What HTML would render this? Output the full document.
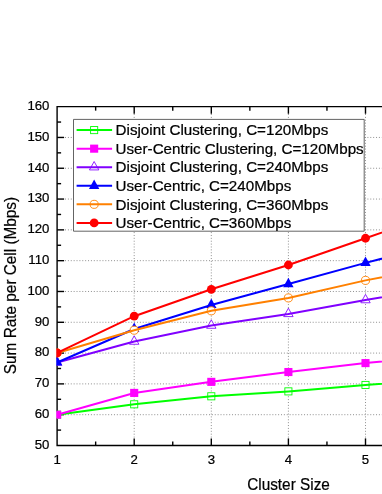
<!DOCTYPE html>
<html><head><meta charset="utf-8"><title>chart</title>
<style>
html,body{margin:0;padding:0;background:#fff;}
body{width:382px;height:494px;overflow:hidden;}
svg{display:block;will-change:transform;}
text{font-family:"Liberation Sans",sans-serif;fill:#000;stroke:#000;stroke-width:0.22px;}
.tk{font-size:13.2px;}
.lg{font-size:15.16px;}
.ax{font-size:15.35px;stroke-width:0.2px;}
</style></head><body>
<svg width="382" height="494" viewBox="0 0 382 494">
<rect width="382" height="494" fill="#fff"/>
<defs><clipPath id="cp"><rect x="56.3" y="100" width="330" height="350"/></clipPath></defs>
<g stroke="#909090" stroke-width="1" stroke-dasharray="1 1.88" fill="none">
<line x1="65" y1="414.69" x2="382" y2="414.69"/>
<line x1="65" y1="383.89" x2="382" y2="383.89"/>
<line x1="65" y1="353.09" x2="382" y2="353.09"/>
<line x1="65" y1="322.28" x2="382" y2="322.28"/>
<line x1="65" y1="291.48" x2="382" y2="291.48"/>
<line x1="65" y1="260.67" x2="382" y2="260.67"/>
<line x1="65" y1="229.87" x2="382" y2="229.87"/>
<line x1="65" y1="199.06" x2="382" y2="199.06"/>
<line x1="65" y1="168.25" x2="382" y2="168.25"/>
<line x1="65" y1="137.45" x2="382" y2="137.45"/>
<line x1="134.20" y1="114" x2="134.20" y2="438"/>
<line x1="211.30" y1="114" x2="211.30" y2="438"/>
<line x1="288.40" y1="114" x2="288.40" y2="438"/>
<line x1="365.50" y1="114" x2="365.50" y2="438"/>
</g>
<g stroke="#000" stroke-width="1.4" fill="none">
<path d="M382 106.65H57.1V445.5H382"/>
<line x1="57.1" y1="430.10" x2="61.1" y2="430.10"/>
<line x1="57.1" y1="414.69" x2="64.1" y2="414.69"/>
<line x1="57.1" y1="399.29" x2="61.1" y2="399.29"/>
<line x1="57.1" y1="383.89" x2="64.1" y2="383.89"/>
<line x1="57.1" y1="368.49" x2="61.1" y2="368.49"/>
<line x1="57.1" y1="353.09" x2="64.1" y2="353.09"/>
<line x1="57.1" y1="337.68" x2="61.1" y2="337.68"/>
<line x1="57.1" y1="322.28" x2="64.1" y2="322.28"/>
<line x1="57.1" y1="306.88" x2="61.1" y2="306.88"/>
<line x1="57.1" y1="291.48" x2="64.1" y2="291.48"/>
<line x1="57.1" y1="276.07" x2="61.1" y2="276.07"/>
<line x1="57.1" y1="260.67" x2="64.1" y2="260.67"/>
<line x1="57.1" y1="245.27" x2="61.1" y2="245.27"/>
<line x1="57.1" y1="229.87" x2="64.1" y2="229.87"/>
<line x1="57.1" y1="214.46" x2="61.1" y2="214.46"/>
<line x1="57.1" y1="199.06" x2="64.1" y2="199.06"/>
<line x1="57.1" y1="183.66" x2="61.1" y2="183.66"/>
<line x1="57.1" y1="168.25" x2="64.1" y2="168.25"/>
<line x1="57.1" y1="152.85" x2="61.1" y2="152.85"/>
<line x1="57.1" y1="137.45" x2="64.1" y2="137.45"/>
<line x1="57.1" y1="122.05" x2="61.1" y2="122.05"/>
<line x1="95.65" y1="445.5" x2="95.65" y2="441.5"/>
<line x1="95.65" y1="106.65" x2="95.65" y2="110.65"/>
<line x1="134.20" y1="445.5" x2="134.20" y2="438.4"/>
<line x1="134.20" y1="106.65" x2="134.20" y2="113.75"/>
<line x1="172.75" y1="445.5" x2="172.75" y2="441.5"/>
<line x1="172.75" y1="106.65" x2="172.75" y2="110.65"/>
<line x1="211.30" y1="445.5" x2="211.30" y2="438.4"/>
<line x1="211.30" y1="106.65" x2="211.30" y2="113.75"/>
<line x1="249.85" y1="445.5" x2="249.85" y2="441.5"/>
<line x1="249.85" y1="106.65" x2="249.85" y2="110.65"/>
<line x1="288.40" y1="445.5" x2="288.40" y2="438.4"/>
<line x1="288.40" y1="106.65" x2="288.40" y2="113.75"/>
<line x1="326.95" y1="445.5" x2="326.95" y2="441.5"/>
<line x1="326.95" y1="106.65" x2="326.95" y2="110.65"/>
<line x1="365.50" y1="445.5" x2="365.50" y2="438.4"/>
<line x1="365.50" y1="106.65" x2="365.50" y2="113.75"/>
</g>
<g clip-path="url(#cp)">
<rect x="53.55" y="411.14" width="7.1" height="7.1" fill="#fff" stroke="#00ff00" stroke-width="0.9"/>
<rect x="130.65" y="400.76" width="7.1" height="7.1" fill="#fff" stroke="#00ff00" stroke-width="0.9"/>
<rect x="207.75" y="392.75" width="7.1" height="7.1" fill="#fff" stroke="#00ff00" stroke-width="0.9"/>
<rect x="284.85" y="387.83" width="7.1" height="7.1" fill="#fff" stroke="#00ff00" stroke-width="0.9"/>
<rect x="361.95" y="381.39" width="7.1" height="7.1" fill="#fff" stroke="#00ff00" stroke-width="0.9"/>
<rect x="439.05" y="375.53" width="7.1" height="7.1" fill="#fff" stroke="#00ff00" stroke-width="0.9"/>
<polyline points="57.10,414.69 134.20,404.31 211.30,396.30 288.40,391.38 365.50,384.94 442.60,379.08" fill="none" stroke="#00ff00" stroke-width="2"/>
<rect x="53.05" y="410.64" width="8.1" height="8.1" fill="#ff00ff"/>
<rect x="130.15" y="388.87" width="8.1" height="8.1" fill="#ff00ff"/>
<rect x="207.25" y="377.81" width="8.1" height="8.1" fill="#ff00ff"/>
<rect x="284.35" y="367.98" width="8.1" height="8.1" fill="#ff00ff"/>
<rect x="361.45" y="359.05" width="8.1" height="8.1" fill="#ff00ff"/>
<rect x="438.55" y="351.96" width="8.1" height="8.1" fill="#ff00ff"/>
<polyline points="57.10,414.69 134.20,392.92 211.30,381.86 288.40,372.03 365.50,363.10 442.60,356.01" fill="none" stroke="#ff00ff" stroke-width="2"/>
<path d="M57.10 356.78L61.80 365.18L52.40 365.18Z" fill="#fff" stroke="#8000ff" stroke-width="0.85"/>
<path d="M134.20 335.86L138.90 344.26L129.50 344.26Z" fill="#fff" stroke="#8000ff" stroke-width="0.85"/>
<path d="M211.30 319.88L216.00 328.28L206.60 328.28Z" fill="#fff" stroke="#8000ff" stroke-width="0.85"/>
<path d="M288.40 308.20L293.10 316.60L283.70 316.60Z" fill="#fff" stroke="#8000ff" stroke-width="0.85"/>
<path d="M365.50 294.37L370.20 302.77L360.80 302.77Z" fill="#fff" stroke="#8000ff" stroke-width="0.85"/>
<path d="M442.60 281.12L447.30 289.52L437.90 289.52Z" fill="#fff" stroke="#8000ff" stroke-width="0.85"/>
<polyline points="57.10,362.48 134.20,341.56 211.30,325.58 288.40,313.90 365.50,300.07 442.60,286.82" fill="none" stroke="#8000ff" stroke-width="2"/>
<path d="M57.10 356.08L62.30 365.58L51.90 365.58Z" fill="#0000ff"/>
<path d="M134.20 322.56L139.40 332.06L129.00 332.06Z" fill="#0000ff"/>
<path d="M211.30 298.57L216.50 308.07L206.10 308.07Z" fill="#0000ff"/>
<path d="M288.40 277.68L293.60 287.18L283.20 287.18Z" fill="#0000ff"/>
<path d="M365.50 256.46L370.70 265.96L360.30 265.96Z" fill="#0000ff"/>
<path d="M442.60 236.77L447.80 246.27L437.40 246.27Z" fill="#0000ff"/>
<polyline points="57.10,362.48 134.20,328.96 211.30,304.97 288.40,284.08 365.50,262.86 442.60,243.17" fill="none" stroke="#0000ff" stroke-width="2"/>
<circle cx="57.10" cy="352.96" r="4.05" fill="#fff" stroke="#ff8000" stroke-width="0.9"/>
<circle cx="134.20" cy="330.20" r="4.05" fill="#fff" stroke="#ff8000" stroke-width="0.9"/>
<circle cx="211.30" cy="310.82" r="4.05" fill="#fff" stroke="#ff8000" stroke-width="0.9"/>
<circle cx="288.40" cy="297.91" r="4.05" fill="#fff" stroke="#ff8000" stroke-width="0.9"/>
<circle cx="365.50" cy="280.39" r="4.05" fill="#fff" stroke="#ff8000" stroke-width="0.9"/>
<circle cx="442.60" cy="265.32" r="4.05" fill="#fff" stroke="#ff8000" stroke-width="0.9"/>
<polyline points="57.10,352.96 134.20,330.20 211.30,310.82 288.40,297.91 365.50,280.39 442.60,265.32" fill="none" stroke="#ff8000" stroke-width="2"/>
<circle cx="57.10" cy="352.96" r="4.4" fill="#ff0000"/>
<circle cx="134.20" cy="316.21" r="4.4" fill="#ff0000"/>
<circle cx="211.30" cy="289.29" r="4.4" fill="#ff0000"/>
<circle cx="288.40" cy="265.01" r="4.4" fill="#ff0000"/>
<circle cx="365.50" cy="238.24" r="4.4" fill="#ff0000"/>
<circle cx="442.60" cy="211.51" r="4.4" fill="#ff0000"/>
<polyline points="57.10,352.96 134.20,316.21 211.30,289.29 288.40,265.01 365.50,238.24 442.60,211.51" fill="none" stroke="#ff0000" stroke-width="2"/>
</g>
<rect x="73.5" y="119.4" width="290.7" height="111.8" fill="#fff"/><path d="M73.5 119.4H364.2V231.2H73.5Z" fill="none" stroke="#484848" stroke-width="0.85"/>
<rect x="90.60" y="126.55" width="7.1" height="7.1" fill="#fff" stroke="#00ff00" stroke-width="0.9"/>
<line x1="76.6" y1="130.10" x2="112.1" y2="130.10" stroke="#00ff00" stroke-width="2"/>
<text class="lg" x="115.6" y="135.30">Disjoint Clustering, C=120Mbps</text>
<rect x="90.10" y="144.61" width="8.1" height="8.1" fill="#ff00ff"/>
<line x1="76.6" y1="148.66" x2="112.1" y2="148.66" stroke="#ff00ff" stroke-width="2"/>
<text class="lg" x="115.6" y="153.86">User-Centric Clustering, C=120Mbps</text>
<path d="M94.15 161.52L98.85 169.92L89.45 169.92Z" fill="#fff" stroke="#8000ff" stroke-width="0.85"/>
<line x1="76.6" y1="167.22" x2="112.1" y2="167.22" stroke="#8000ff" stroke-width="2"/>
<text class="lg" x="115.6" y="172.42">Disjoint Clustering, C=240Mbps</text>
<path d="M94.15 179.38L99.35 188.88L88.95 188.88Z" fill="#0000ff"/>
<line x1="76.6" y1="185.78" x2="112.1" y2="185.78" stroke="#0000ff" stroke-width="2"/>
<text class="lg" x="115.6" y="190.98">User-Centric, C=240Mbps</text>
<circle cx="94.15" cy="204.34" r="4.05" fill="#fff" stroke="#ff8000" stroke-width="0.9"/>
<line x1="76.6" y1="204.34" x2="112.1" y2="204.34" stroke="#ff8000" stroke-width="2"/>
<text class="lg" x="115.6" y="209.54">Disjoint Clustering, C=360Mbps</text>
<circle cx="94.15" cy="222.90" r="4.4" fill="#ff0000"/>
<line x1="76.6" y1="222.90" x2="112.1" y2="222.90" stroke="#ff0000" stroke-width="2"/>
<text class="lg" x="115.6" y="228.10">User-Centric, C=360Mbps</text>
<text class="tk" x="49.4" y="448.80" text-anchor="end">50</text>
<text class="tk" x="49.4" y="418.00" text-anchor="end">60</text>
<text class="tk" x="49.4" y="387.19" text-anchor="end">70</text>
<text class="tk" x="49.4" y="356.39" text-anchor="end">80</text>
<text class="tk" x="49.4" y="325.58" text-anchor="end">90</text>
<text class="tk" x="49.4" y="294.78" text-anchor="end">100</text>
<text class="tk" x="49.4" y="263.97" text-anchor="end">110</text>
<text class="tk" x="49.4" y="233.17" text-anchor="end">120</text>
<text class="tk" x="49.4" y="202.36" text-anchor="end">130</text>
<text class="tk" x="49.4" y="171.56" text-anchor="end">140</text>
<text class="tk" x="49.4" y="140.75" text-anchor="end">150</text>
<text class="tk" x="49.4" y="109.95" text-anchor="end">160</text>
<text class="tk" x="57.10" y="463.6" text-anchor="middle">1</text>
<text class="tk" x="134.20" y="463.6" text-anchor="middle">2</text>
<text class="tk" x="211.30" y="463.6" text-anchor="middle">3</text>
<text class="tk" x="288.40" y="463.6" text-anchor="middle">4</text>
<text class="tk" x="365.50" y="463.6" text-anchor="middle">5</text>
<text class="ax" transform="translate(288.5,489.7) scale(1,1.11)" text-anchor="middle">Cluster Size</text>
<text class="ax" transform="translate(15.8,285.5) rotate(-90) scale(1,1.11)" text-anchor="middle">Sum Rate per Cell (Mbps)</text>
</svg></body></html>
